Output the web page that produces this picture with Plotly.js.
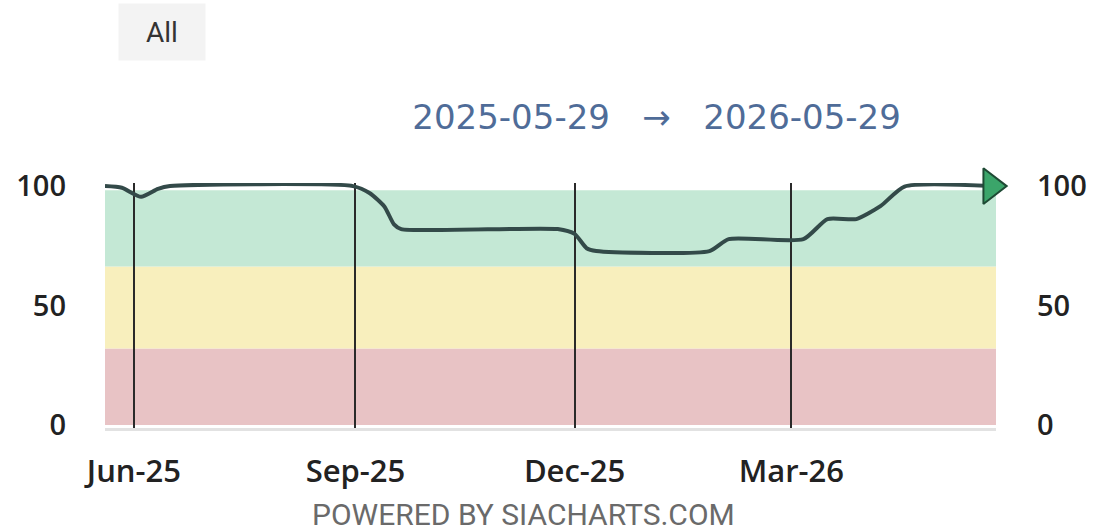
<!DOCTYPE html>
<html>
<head>
<meta charset="utf-8">
<script src="https://cdn.plot.ly/plotly-3.0.1.min.js"></script>
<style>
  html, body { margin: 0; padding: 0; background: #ffffff; }
  #chart { width: 1098px; height: 531px; }
</style>
</head>
<body>
<div id="chart"></div>
<script>
// ---- data ----
const dates = [
  '2025-05-20', '2025-05-27', '2025-06-04', '2025-06-11', '2025-06-16',
  '2025-08-31', '2025-09-07', '2025-09-13', '2025-09-17', '2025-09-20',
  '2025-11-24', '2025-12-01', '2025-12-06', '2025-12-10',
  '2026-01-26', '2026-02-03',
  '2026-03-06', '2026-03-16',
  '2026-03-28', '2026-04-07', '2026-04-17',
  '2026-05-23'
];
const scores = [
  100, 99.3, 95.5, 98.8, 100,
  100, 97, 91.5, 84, 82,
  82, 80, 74, 72.8,
  72.8, 77.8,
  77.8, 86.2,
  86.2, 91.6, 99.8,
  100
];
// background bands: [from, to, colour]
const bandLow  = [0, 32, 66.3];
const bandHigh = [32, 66.3, 98.3];
const bandColors = ['#e8c3c5', '#f8efbd', '#c4e8d5'];

const yTicks = [0, 50, 100];
const xRange = ['2025-05-20', '2026-05-25'];
const yRange = [-1.26, 101.3];
const rangeText = '2025-05-29   \u2192   2026-05-29';
const buttonText = 'All';
const footerText = 'POWERED BY SIACHARTS.COM';

// ---- chart ----
const shapes = bandLow.map((lo, i) => ({
  type: 'rect', layer: 'below', xref: 'paper', yref: 'y',
  x0: 0, x1: 1, y0: lo, y1: bandHigh[i],
  fillcolor: bandColors[i], line: { width: 0 }
}));

const lineTrace = {
  x: dates, y: scores, type: 'scatter', mode: 'lines',
  line: { color: '#334a49', width: 4, shape: 'spline', smoothing: 0.6 },
  hoverinfo: 'skip', showlegend: false, cliponaxis: false
};
const endTrace = {
  x: [dates[dates.length - 1]], y: [scores[scores.length - 1]],
  type: 'scatter', mode: 'markers', yaxis: 'y2',
  marker: { symbol: 'triangle-right', size: 31, color: '#3ba56a',
            line: { color: '#1e4a34', width: 2 } },
  hoverinfo: 'skip', showlegend: false, cliponaxis: false
};

const tickFont = { family: 'Open Sans, sans-serif', size: 29, color: '#222222', weight: 600 };

const layout = {
  width: 1098, height: 531,
  margin: { l: 105, r: 102, t: 183, b: 103, pad: 0 },
  paper_bgcolor: '#ffffff', plot_bgcolor: 'rgba(0,0,0,0)',
  showlegend: false,
  title: {
    text: rangeText, xref: 'container', yref: 'container',
    x: 0.598, xanchor: 'center', y: 0.78, yanchor: 'middle',
    font: { family: 'DejaVu Sans, sans-serif', size: 34, color: '#4f6c98' }
  },
  xaxis: {
    type: 'date', range: xRange,
    tick0: '2025-06-01', dtick: 'M3', tickformat: '%b-%y',
    showgrid: true, gridcolor: '#2a2a2a', gridwidth: 2,
    showline: true, linecolor: '#e2e2e2', linewidth: 3,
    ticks: '', ticklabelstandoff: 14,
    tickfont: { family: 'Open Sans, sans-serif', size: 31, color: '#222222', weight: 600 },
    zeroline: false, fixedrange: true
  },
  yaxis: {
    range: yRange, tickvals: yTicks, ticktext: yTicks.map(String),
    showgrid: false, zeroline: false, showline: false, ticks: '',
    ticklabelstandoff: 38, tickfont: tickFont, fixedrange: true
  },
  yaxis2: {
    range: yRange, tickvals: yTicks, ticktext: yTicks.map(String),
    overlaying: 'y', side: 'right', anchor: 'x',
    showgrid: false, zeroline: false, showline: false, ticks: '',
    ticklabelstandoff: 40, tickfont: tickFont, fixedrange: true
  },
  shapes: shapes,
  annotations: [
    {
      text: buttonText, xref: 'paper', yref: 'paper',
      x: (162 - 105) / 891, y: (428 - 32) / 245,
      xanchor: 'center', yanchor: 'middle', showarrow: false,
      width: 84, height: 54, bgcolor: '#f3f3f3',
      font: { family: 'Liberation Sans Narrow, Roboto, sans-serif', size: 28, color: '#333333' }
    },
    {
      text: footerText, xref: 'paper', yref: 'paper',
      x: (523 - 105) / 891, y: (428 - 514) / 245,
      xanchor: 'center', yanchor: 'middle', showarrow: false,
      font: { family: 'Liberation Sans Narrow, Roboto, sans-serif', size: 30, color: '#6a6a6a' }
    }
  ]
};

Plotly.newPlot('chart', [lineTrace, endTrace], layout, { staticPlot: true, displayModeBar: false });
</script>
</body>
</html>
